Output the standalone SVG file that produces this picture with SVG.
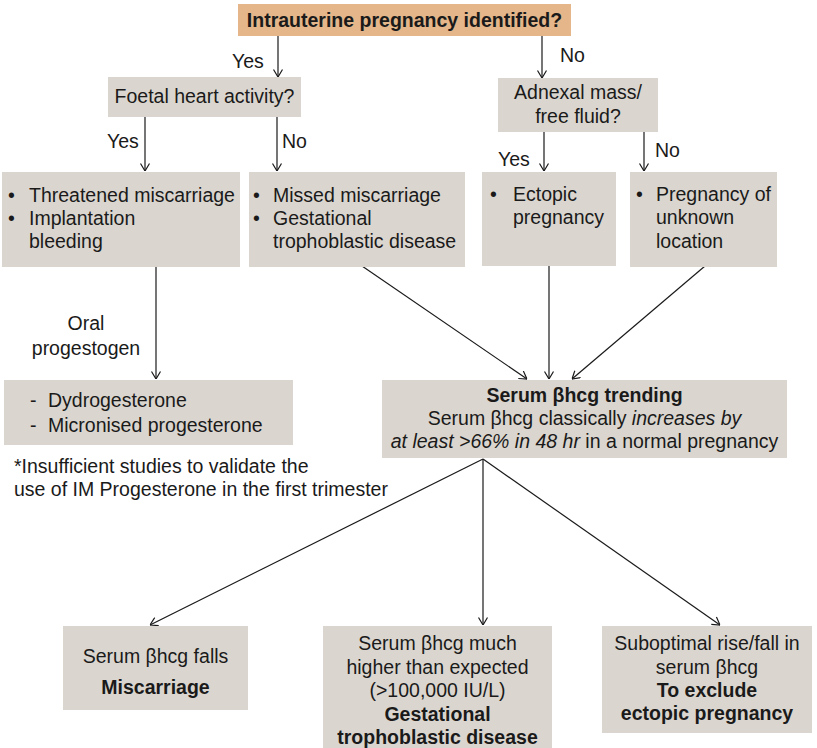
<svg xmlns="http://www.w3.org/2000/svg" width="817" height="748" viewBox="0 0 817 748">
  <style>
    text { font-family: "Liberation Sans", Arial, Helvetica, sans-serif; font-size: 19.5px; fill: #1a1a1a; }
    .c { text-anchor: middle; }
    .b { font-weight: bold; }
    .i { font-style: italic; }
    .box { fill: #dad6cf; }
    .head { fill: #e4b68a; }
    .conn line, .conn path { stroke: #1a1a1a; stroke-width: 1.2; fill: none; marker-end: url(#arr); }
  </style>
  <defs>
    <marker id="arr" viewBox="0 0 10 10" refX="10" refY="5" markerWidth="10" markerHeight="10" markerUnits="userSpaceOnUse" orient="auto">
      <path d="M2.5,0.5 L10,5 L2.5,9.5" fill="none" stroke="#1a1a1a" stroke-width="1.2"/>
    </marker>
  </defs>

  <rect width="817" height="748" fill="#ffffff"/>

  <!-- connectors -->
  <g id="connectors" class="conn">
    <line x1="278" y1="36" x2="278" y2="77"/>
    <line x1="542" y1="36" x2="542" y2="78"/>
    <line x1="145" y1="117" x2="145" y2="171"/>
    <line x1="277" y1="117" x2="277" y2="171"/>
    <line x1="544" y1="132" x2="544" y2="171"/>
    <line x1="644" y1="132" x2="644" y2="171"/>
    <line x1="156" y1="267" x2="156" y2="379"/>
    <line x1="362" y1="266" x2="527" y2="379"/>
    <line x1="549" y1="266" x2="549" y2="379"/>
    <line x1="705" y1="266" x2="572" y2="379"/>
    <line x1="483" y1="459" x2="150" y2="625"/>
    <line x1="483" y1="459" x2="483" y2="625"/>
    <line x1="483" y1="459" x2="720" y2="625"/>
  </g>

  <!-- branch labels -->
  <g id="labels">
    <text x="232" y="68">Yes</text>
    <text x="560" y="62">No</text>
    <text x="107" y="148">Yes</text>
    <text x="282" y="148">No</text>
    <text x="498" y="166">Yes</text>
    <text x="655" y="157">No</text>
    <text class="c" x="86" y="330">Oral</text>
    <text class="c" x="86" y="355">progestogen</text>
  </g>

  <g id="n-iup">
    <rect class="head" x="238" y="4" width="333" height="32"/>
    <text class="c b" x="404.5" y="27">Intrauterine pregnancy identified?</text>
  </g>

  <g id="n-fha">
    <rect class="box" x="108" y="77" width="193" height="40"/>
    <text class="c" x="204.5" y="103">Foetal heart activity?</text>
  </g>

  <g id="n-adnexal">
    <rect class="box" x="498" y="78" width="160" height="54"/>
    <text class="c" x="578" y="99">Adnexal mass/</text>
    <text class="c" x="578" y="123">free fluid?</text>
  </g>

  <g id="n-threatened">
    <rect class="box" x="2" y="172" width="238" height="95"/>
    <text x="8" y="202">•</text>
    <text x="29" y="202">Threatened miscarriage</text>
    <text x="8" y="225">•</text>
    <text x="29" y="225">Implantation</text>
    <text x="29" y="248">bleeding</text>
  </g>

  <g id="n-missed">
    <rect class="box" x="249" y="172" width="216" height="95"/>
    <text x="253" y="202">•</text>
    <text x="273" y="202">Missed miscarriage</text>
    <text x="253" y="225">•</text>
    <text x="273" y="225">Gestational</text>
    <text x="273" y="248">trophoblastic disease</text>
  </g>

  <g id="n-ectopic">
    <rect class="box" x="482" y="172" width="134" height="94"/>
    <text x="490" y="201">•</text>
    <text x="513" y="201">Ectopic</text>
    <text x="513" y="224">pregnancy</text>
  </g>

  <g id="n-pul">
    <rect class="box" x="630" y="172" width="147" height="95"/>
    <text x="636" y="201">•</text>
    <text x="656" y="201">Pregnancy of</text>
    <text x="656" y="224">unknown</text>
    <text x="656" y="248">location</text>
  </g>

  <g id="n-progestogen">
    <rect class="box" x="4" y="380" width="289" height="65"/>
    <text x="30" y="407">-</text>
    <text x="48" y="407">Dydrogesterone</text>
    <text x="30" y="432">-</text>
    <text x="48" y="432">Micronised progesterone</text>
  </g>

  <g id="n-footnote">
    <text x="14" y="473">*Insufficient studies to validate the</text>
    <text x="14" y="496">use of IM Progesterone in the first trimester</text>
  </g>

  <g id="n-trend">
    <rect class="box" x="382" y="380" width="405" height="78"/>
    <text class="c b" x="584.5" y="402">Serum βhcg trending</text>
    <text class="c" x="584.5" y="425">Serum βhcg classically <tspan class="i">increases by</tspan></text>
    <text class="c" x="584.5" y="448"><tspan class="i">at least &gt;66% in 48 hr</tspan> in a normal pregnancy</text>
  </g>

  <g id="n-falls">
    <rect class="box" x="63" y="626" width="185" height="84"/>
    <text class="c" x="155.5" y="663">Serum βhcg falls</text>
    <text class="c b" x="155.5" y="694">Miscarriage</text>
  </g>

  <g id="n-higher">
    <rect class="box" x="323" y="626" width="229" height="122"/>
    <text class="c" x="437.5" y="650">Serum βhcg much</text>
    <text class="c" x="437.5" y="674">higher than expected</text>
    <text class="c" x="437.5" y="697">(&gt;100,000 IU/L)</text>
    <text class="c b" x="437.5" y="721">Gestational</text>
    <text class="c b" x="437.5" y="744">trophoblastic disease</text>
  </g>

  <g id="n-suboptimal">
    <rect class="box" x="602" y="626" width="210" height="107"/>
    <text class="c" x="707" y="650">Suboptimal rise/fall in</text>
    <text class="c" x="707" y="674">serum βhcg</text>
    <text class="c b" x="707" y="697">To exclude</text>
    <text class="c b" x="707" y="720">ectopic pregnancy</text>
  </g>
</svg>
